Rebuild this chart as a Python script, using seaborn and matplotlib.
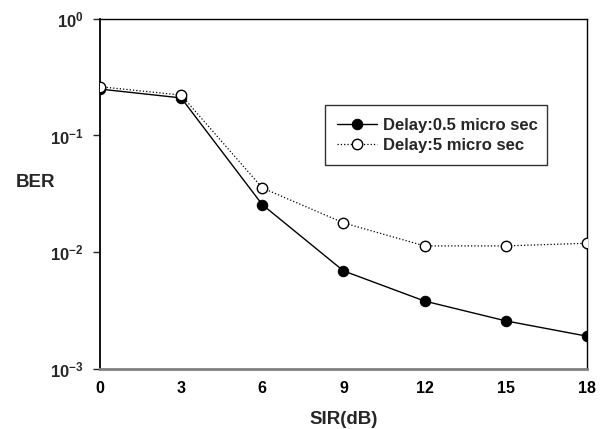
import matplotlib
matplotlib.use("Agg")
import matplotlib.pyplot as plt
import seaborn as sns
import pandas as pd
from matplotlib.ticker import FixedLocator, NullLocator

sir_db = [0, 3, 6, 9, 12, 15, 18]
ber_05us = [0.25, 0.21, 0.0255, 0.0069, 0.0038, 0.00257, 0.0019]
ber_5us = [0.262, 0.222, 0.0355, 0.0178, 0.0113, 0.0113, 0.0119]
series_names = ["Delay:0.5 micro sec", "Delay:5 micro sec"]
x_ticks = [0, 3, 6, 9, 12, 15, 18]
y_ticks = [1e-3, 1e-2, 1e-1, 1e0]
y_tick_labels = [r"$\mathbf{10^{-3}}$", r"$\mathbf{10^{-2}}$", r"$\mathbf{10^{-1}}$", r"$\mathbf{10^{0}}$"]

sns.set_style("white")
plt.rcParams["font.family"] = ["Liberation Sans", "DejaVu Sans"]
plt.rcParams["font.weight"] = "bold"
plt.rcParams["mathtext.fontset"] = "custom"
plt.rcParams["mathtext.bf"] = "Liberation Sans:bold"
plt.rcParams["mathtext.rm"] = "Liberation Sans:bold"

df = pd.DataFrame({
    "SIR": sir_db * 2,
    "BER": ber_05us + ber_5us,
    "series": [series_names[0]] * len(sir_db) + [series_names[1]] * len(sir_db),
})

fig = plt.figure(figsize=(6.06, 4.29), dpi=100)
ax = fig.add_axes([0.165, 0.1406, 0.8036, 0.8154])

sns.lineplot(data=df[df.series == series_names[0]], x="SIR", y="BER", ax=ax,
             color="black", linewidth=1.0, linestyle="-", marker="o",
             markersize=7.5, markerfacecolor="black", markeredgecolor="black",
             label=series_names[0], zorder=3)
sns.lineplot(data=df[df.series == series_names[1]], x="SIR", y="BER", ax=ax,
             color="black", linewidth=0.9, linestyle=":", marker="o",
             markersize=7.5, markerfacecolor="white", markeredgecolor="black",
             markeredgewidth=1.0, label=series_names[1], zorder=4)

ax.set_yscale("log")
ax.set_xlim(0, 18)
ax.set_ylim(1e-3, 1e0)
ax.xaxis.set_major_locator(FixedLocator(x_ticks))
ax.set_xticklabels([str(t) for t in x_ticks])
ax.yaxis.set_major_locator(FixedLocator(y_ticks))
ax.yaxis.set_minor_locator(NullLocator())
ax.set_yticklabels(y_tick_labels)

ax.tick_params(axis="x", direction="in", length=5, width=1, pad=9, labelsize=11.5, colors="black")
ax.tick_params(axis="y", direction="out", length=5, width=1, pad=7, labelsize=12, left=True)
ax.tick_params(axis="y", which="minor", left=False)
for lab in ax.get_xticklabels() + ax.get_yticklabels():
    lab.set_fontweight("bold")

for side in ["top", "right", "left"]:
    ax.spines[side].set_color("black")
    ax.spines[side].set_linewidth(1.0)
ax.spines["left"].set_linewidth(1.3)
ax.spines["bottom"].set_color("#808080")
ax.spines["bottom"].set_linewidth(2.0)
ax.grid(False)

ax.set_xlabel("SIR(dB)", fontsize=13.5, fontweight="bold", labelpad=10.5)
ax.set_ylabel("BER", fontsize=13.5, fontweight="bold", rotation=0, ha="center", va="center")
ax.yaxis.set_label_coords(-0.133, 0.531)

leg = ax.legend(loc="upper left", bbox_to_anchor=(0.462, 0.576, 0.456, 0.177), mode="expand",
                frameon=True, fancybox=False, edgecolor="black", fontsize=12,
                handlelength=2.4, handletextpad=0.36, borderpad=0.75,
                labelspacing=0.3, borderaxespad=0)
leg.get_frame().set_linewidth(1.0)
for t in leg.get_texts():
    t.set_fontweight("bold")

fig.savefig("out.png", dpi=100)
